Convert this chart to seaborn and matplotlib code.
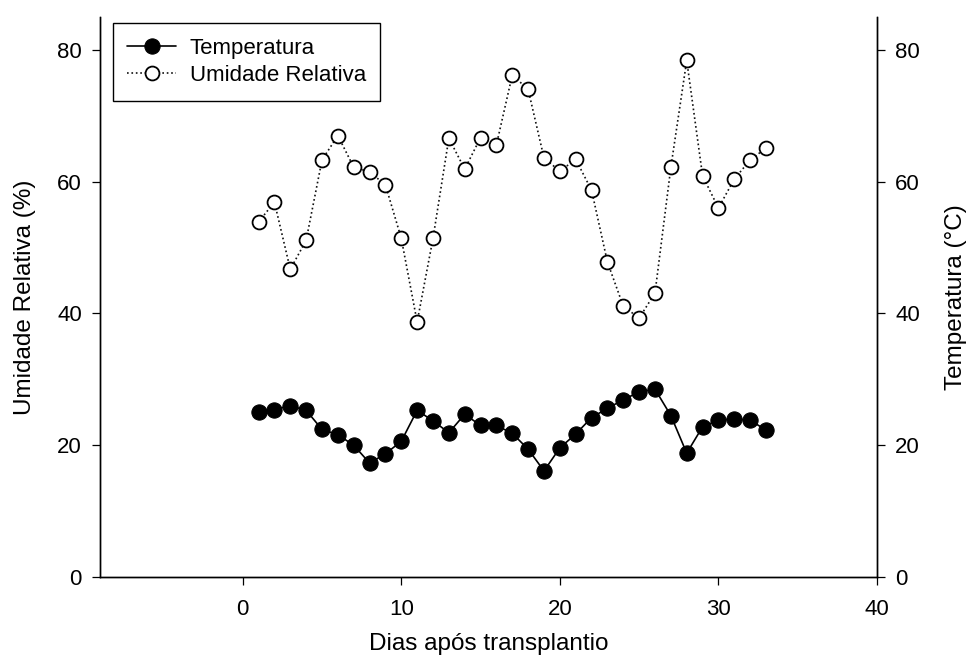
import matplotlib
matplotlib.use("Agg")
import matplotlib.pyplot as plt
import seaborn as sns

# values
dias = list(range(1, 34))
temperatura = [25.1, 25.4, 26.0, 25.3, 22.4, 21.6, 20.0, 17.3, 18.7, 20.6,
               25.3, 23.7, 21.9, 24.7, 23.0, 23.0, 21.8, 19.4, 16.1, 19.6,
               21.7, 24.2, 25.6, 26.9, 28.1, 28.5, 24.5, 18.8, 22.8, 23.8,
               24.0, 23.8, 22.3]
umidade = [53.9, 56.9, 46.7, 51.1, 63.3, 67.0, 62.2, 61.5, 59.5, 51.4,
           38.7, 51.4, 66.6, 61.9, 66.7, 65.6, 76.2, 74.0, 63.6, 61.6,
           63.4, 58.7, 47.8, 41.1, 39.3, 43.1, 62.2, 78.4, 60.9, 56.0,
           60.4, 63.3, 65.1]
x_ticks = [0, 10, 20, 30, 40]
y_ticks = [0, 20, 40, 60, 80]

sns.set_theme(style="ticks")
plt.rcParams['font.family'] = ['Liberation Sans', 'DejaVu Sans']
plt.rcParams['text.color'] = 'black'
plt.rcParams['axes.labelcolor'] = 'black'

fig, ax = plt.subplots(figsize=(9.68, 6.69), dpi=100)
fig.subplots_adjust(left=0.1033, right=0.906, top=0.9746, bottom=0.1375)
ax2 = ax.twinx()

# humidity on the left axis, temperature on the right one
sns.lineplot(x=dias, y=umidade, ax=ax, color='#111111', linestyle=':',
             linewidth=1.2, marker='o', markersize=10, markerfacecolor='white',
             markeredgecolor='black', markeredgewidth=1.3, label='Umidade Relativa')
sns.lineplot(x=dias, y=temperatura, ax=ax2, color='black', linewidth=1.2,
             marker='o', markersize=11, markerfacecolor='black',
             markeredgecolor='black', label='Temperatura')

for a in (ax, ax2):
    a.set_xlim(-9, 40)
    a.set_ylim(0, 85)
    a.set_yticks(y_ticks)
    a.spines['top'].set_visible(False)
    for s in a.spines.values():
        s.set_linewidth(1.0)
        s.set_color('black')
    a.tick_params(direction='out', length=6, width=0.9, color='black',
                  labelsize=16, pad=7, labelcolor='black')
ax.set_xticks(x_ticks)
ax.tick_params(axis='x', pad=9.5)

ax.set_xlabel('Dias após transplantio', fontsize=17.5)
ax.set_ylabel('Umidade Relativa (%)', fontsize=17.5)
ax2.set_ylabel('Temperatura (°C)', fontsize=17.5)
ax.xaxis.set_label_coords(0.5, -0.1)
ax.yaxis.set_label_coords(-0.082, 0.5)
ax2.yaxis.set_label_coords(1.0875, 0.5)

# single legend with both series, temperature first
ax.get_legend().remove()
ax2.get_legend().remove()
h1, l1 = ax.get_legend_handles_labels()
h2, l2 = ax2.get_legend_handles_labels()
leg = ax2.legend(h2 + h1, l2 + l1, loc='upper left', bbox_to_anchor=(0.0167, 0.989),
                 borderaxespad=0, fontsize=16, frameon=True, fancybox=False,
                 framealpha=1, edgecolor='black', handlelength=2.2,
                 handletextpad=0.6, labelspacing=0.3, borderpad=0.65)
leg.get_frame().set_linewidth(1.0)

fig.savefig('out.png', dpi=100)
